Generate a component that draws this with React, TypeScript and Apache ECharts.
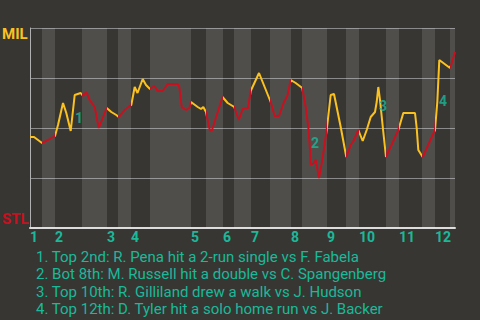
import React, { useEffect, useRef } from "react";
import * as echarts from "echarts";

// Half-inning boundaries along the game progress axis (top 1st starts at 0)
const halfInningBounds = [0, 12, 25, 52, 77, 88, 101, 120, 161, 176, 193, 204, 221, 240, 261, 272, 297, 316, 329, 356, 369, 392, 405, 420, 425];
const inningLabels = ["1", "2", "3", "4", "5", "6", "7", "8", "9", "10", "11", "12"];

// Game progress and Milwaukee win probability
const progress = [0, 4, 8, 12, 18, 25, 28, 33, 36.3, 40.7, 44.7, 50.7, 53, 56.3, 59.7, 64.7, 68.7, 76.7, 81.3, 86.3, 88.7, 94.7, 99.7, 101.3, 104.7, 107.5, 112.7, 116, 120, 124.3, 127.7, 132.7, 137.7, 147.7, 149.3, 151.7, 156, 159.3, 161, 167.7, 171, 173.3, 176, 180, 182, 192.5, 197.7, 204.3, 208.7, 212.7, 218, 220.7, 229, 240.7, 244.7, 249, 254, 257.3, 260.7, 265.7, 272.3, 275.7, 278.3, 280, 280.7, 284, 285.7, 289, 292.3, 296.7, 300.7, 304, 310.7, 316.3, 320.7, 324, 328.3, 332.7, 336.7, 340.7, 345, 346.7, 348.3, 350, 353.3, 356, 368.3, 373.3, 385, 386.7, 388.3, 392.7, 405, 407.3, 409.3, 420, 421.7, 425];
const milWinProb = [0.455, 0.455, 0.44, 0.425, 0.44, 0.46, 0.515, 0.625, 0.575, 0.485, 0.665, 0.675, 0.66, 0.68, 0.64, 0.605, 0.5, 0.6, 0.58, 0.565, 0.555, 0.59, 0.61, 0.615, 0.705, 0.675, 0.745, 0.715, 0.695, 0.71, 0.685, 0.685, 0.72, 0.72, 0.705, 0.605, 0.59, 0.6, 0.63, 0.605, 0.595, 0.605, 0.58, 0.485, 0.49, 0.655, 0.625, 0.605, 0.54, 0.595, 0.6, 0.685, 0.775, 0.63, 0.56, 0.56, 0.63, 0.66, 0.74, 0.725, 0.7, 0.605, 0.505, 0.39, 0.315, 0.325, 0.34, 0.25, 0.34, 0.49, 0.665, 0.67, 0.505, 0.355, 0.415, 0.44, 0.49, 0.435, 0.49, 0.555, 0.58, 0.63, 0.705, 0.64, 0.48, 0.355, 0.49, 0.575, 0.575, 0.5, 0.39, 0.355, 0.49, 0.63, 0.84, 0.8, 0.825, 0.88];

// Key events
const eventMarkers = ["1", "2", "3", "4"];
const eventMarkerX = [49, 285, 353, 413];
const eventMarkerY = [0.55, 0.425, 0.6125, 0.6375];
const eventNotes = [
  "1. Top 2nd: R. Pena hit a 2-run single vs F. Fabela",
  "2. Bot 8th: M. Russell hit a double vs C. Spangenberg",
  "3. Top 10th: R. Gilliland drew a walk vs J. Hudson",
  "4. Top 12th: D. Tyler hit a solo home run vs J. Backer",
];
const teamTop = "MIL";
const teamBottom = "STL";

const BG = "#383632";
const YELLOW = "#fbc21f";
const RED = "#c8101f";
const TEAL = "#1ab99a";

export default function App() {
  const ref = useRef<HTMLDivElement>(null);
  useEffect(() => {
    document.body.style.margin = "0";
    const chart = echarts.init(ref.current!, null, { renderer: "svg" });
    const inningStarts = inningLabels.map((_, i) => halfInningBounds[2 * i]);
    const bands: any[] = [];
    for (let i = 1; i < halfInningBounds.length - 1; i += 2) {
      bands.push([{ xAxis: halfInningBounds[i] }, { xAxis: halfInningBounds[i + 1] }]);
    }
    const pieces: any[] = [];
    const n = halfInningBounds.length - 1;
    for (let i = 0; i < n; i++) {
      const p: any = { gte: halfInningBounds[i], color: i % 2 === 0 ? YELLOW : RED };
      if (i < n - 1) p.lt = halfInningBounds[i + 1];
      else p.lte = halfInningBounds[i + 1] + 1;
      pieces.push(p);
    }
    const lineData = progress.map((x, i) => [x, milWinProb[i]]);
    const markerData = eventMarkers.map((m, i) => ({ value: [eventMarkerX[i], eventMarkerY[i]], name: m }));
    const xMax = halfInningBounds[halfInningBounds.length - 1];

    chart.setOption({
      animation: false,
      backgroundColor: BG,
      grid: { left: 30, right: 480 - 30 - xMax, top: 28, height: 200, containLabel: false },
      title: {
        text: eventNotes.join("\n"),
        left: 31,
        top: 243,
        textStyle: { color: TEAL, fontSize: 15, fontWeight: "normal", lineHeight: 17.5, fontFamily: "Roboto" },
      },
      graphic: [
        { type: "text", left: 2, top: 26, style: { text: teamTop, fill: YELLOW, font: "bold 15px Roboto" } },
        { type: "text", left: 2, top: 211, style: { text: teamBottom, fill: RED, font: "bold 15px Roboto" } },
      ],
      visualMap: { show: false, type: "piecewise", dimension: 0, seriesIndex: 0, pieces },
      xAxis: {
        type: "value",
        min: 0,
        max: xMax,
        offset: 1,
        axisLine: { show: true, lineStyle: { color: "#dcdcdc", width: 2 } },
        axisTick: { show: false },
        splitLine: { show: false },
        axisLabel: {
          customValues: inningStarts,
          formatter: (v: number) => inningLabels[inningStarts.indexOf(v)] ?? "",
          align: "left",
          color: TEAL,
          fontWeight: "bold",
          fontSize: 14,
          fontFamily: "Roboto",
          margin: 1,
        },
      },
      yAxis: {
        type: "value",
        min: 0,
        max: 1,
        interval: 0.25,
        axisLine: { show: true, lineStyle: { color: "#b0b0b0", width: 1 } },
        axisTick: { show: false },
        axisLabel: { show: false },
        splitLine: { show: true, lineStyle: { color: "#8a8a8a", width: 1 } },
      },
      series: [
        {
          type: "line",
          data: lineData,
          showSymbol: false,
          lineStyle: { width: 2 },
          z: 5,
        },
        {
          type: "line",
          data: [],
          silent: true,
          markArea: { silent: true, itemStyle: { color: "rgba(255,255,255,0.12)" }, data: bands },
          z: 1,
        },
        {
          type: "scatter",
          data: markerData,
          symbolSize: 0,
          z: 6,
          label: {
            show: true,
            position: "inside",
            formatter: (p: any) => p.name,
            color: TEAL,
            fontWeight: "bold",
            fontSize: 14,
            fontFamily: "Roboto",
          },
        },
      ],
    });
    return () => chart.dispose();
  }, []);
  return <div ref={ref} style={{ position: "fixed", left: 0, top: 0, width: 480, height: 320 }} />;
}
